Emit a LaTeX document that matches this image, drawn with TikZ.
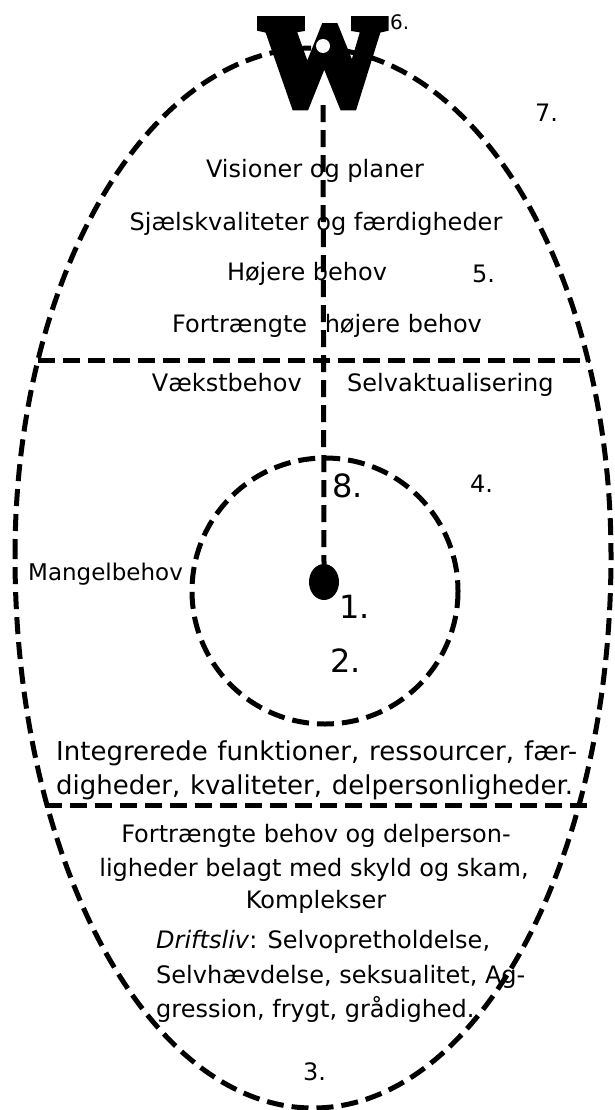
\documentclass[tikz,border=0pt]{standalone}
\usepackage{fontspec}
\setmainfont{DejaVu Sans}
\newfontfamily\wfont[FakeBold=9]{Liberation Serif Bold}
\usetikzlibrary{shapes.geometric}
\begin{document}
\begin{tikzpicture}[x=1pt,y=-1pt,
  dsh/.style={line width=5pt, dash pattern=on 17pt off 8pt},
  txt/.style={font=\fontsize{24}{30}\selectfont, inner sep=0pt, anchor=base},
  txtl/.style={txt, anchor=base west},
  txtr/.style={txt, anchor=base east},
  itxt/.style={font=\fontsize{26}{32}\selectfont, inner sep=0pt, anchor=base west},
  sml/.style={font=\fontsize{24}{28}\selectfont, inner sep=0pt, anchor=base west},
  bignum/.style={font=\fontsize{32}{38}\selectfont, inner sep=0pt, anchor=base west}]
\useasboundingbox (0,0) rectangle (615,1110);
% outer egg: upper and lower half-ellipses
\draw[dsh] (15,556) arc[start angle=180, end angle=360, x radius=298, y radius=508]
                    arc[start angle=0, end angle=180, x radius=298, y radius=552];
% horizontal dividers
\draw[dsh] (38,360) -- (590,360);
\draw[dsh] (45,805) -- (593,805);
% inner circle
\draw[dsh] (325,591) circle [radius=133];
% W and centre dot
\node[font=\wfont\fontsize{124}{124}\selectfont, inner sep=0pt, anchor=base] (W) at (323,103) {W};
\fill[white] (323,46) circle [radius=7];
\node[ellipse, fill=black, minimum width=30pt, minimum height=36pt, inner sep=0pt] (dot) at (324,582) {};
\draw[dsh] (W.south) -- (dot.north);
% numbers
\node[font=\fontsize{20}{24}\selectfont, inner sep=0pt, anchor=base west] (n6) at (390,30) {6.};
\node[sml] (n7) at (535,122) {7.};
\node[sml] (n5) at (472,282) {5.};
\node[sml] (n4) at (470,492) {4.};
\node[bignum] (n8) at (332,497) {8.};
\node[bignum] (n1) at (339,618) {1.};
\node[bignum] (n2) at (330,672) {2.};
\node[sml] (n3) at (303,1080) {3.};
% upper texts
\node[txt] (t1) at (315,178) {Visioner og planer};
\node[txt] (t2) at (316,230) {Sjælskvaliteter og færdigheder};
\node[txt] (t3) at (307,280) {Højere behov};
\node[txtl] (t4) at (172,332) {Fortrængte \hspace{10pt}højere behov};
\node[txtr] (t5) at (302,391) {Vækstbehov};
\node[txtl] (t6) at (347,391) {Selvaktualisering};
\node[font=\fontsize{23}{26}\selectfont, inner sep=0pt, anchor=base west] (t7) at (28,580) {Mangelbehov};
% lower texts
\node[itxt] (l1) at (56,760) {\makebox[521pt][s]{Integrerede funktioner, ressourcer, fær-}};
\node[itxt] (l2) at (56,794) {\makebox[517pt][s]{digheder, kvaliteter, delpersonligheder.}};
\node[txt] (l3) at (316,842) {Fortrængte behov og delperson-};
\node[txt] (l4) at (314,876) {ligheder belagt med skyld og skam,};
\node[txt] (l5) at (316,908) {Komplekser};
\node[txtl] (l6) at (156,948) {\textit{Driftsliv}: Selvopretholdelse,};
\node[txtl] (l7) at (156,983) {Selvhævdelse, seksualitet, Ag-};
\node[txtl] (l8) at (156,1017) {gression, frygt, grådighed.};
\end{tikzpicture}
\end{document}
